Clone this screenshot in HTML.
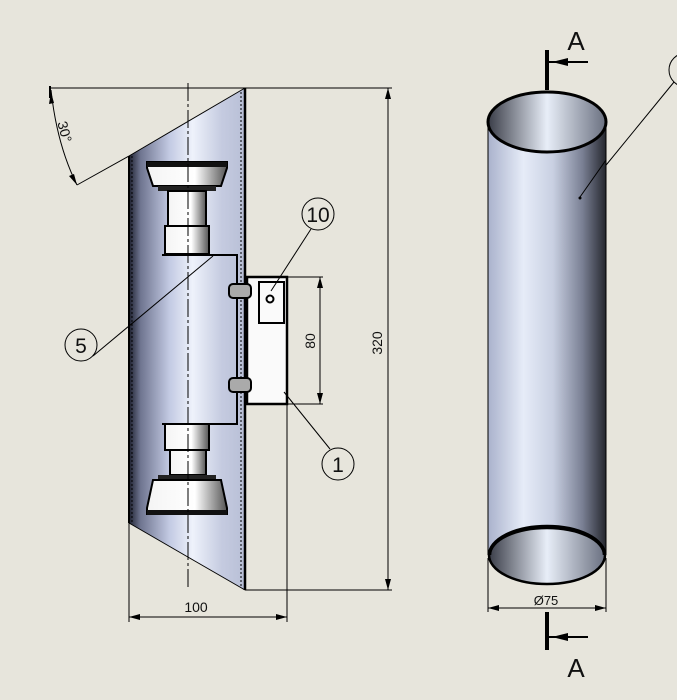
<!DOCTYPE html>
<html><head><meta charset="utf-8"><style>
html,body{margin:0;padding:0;background:#e7e5dc;}
svg{display:block;font-family:"Liberation Sans",sans-serif;}
</style></head><body>
<svg width="700" height="700" viewBox="0 0 700 700" xmlns="http://www.w3.org/2000/svg">
<defs>
<linearGradient id="body" x1="0" x2="1" y1="0" y2="0">
<stop offset="0" stop-color="#1e2130"/><stop offset="0.1" stop-color="#6f7590"/>
<stop offset="0.35" stop-color="#c3cae3"/><stop offset="0.55" stop-color="#eef2fb"/>
<stop offset="0.8" stop-color="#c5cbe0"/><stop offset="1" stop-color="#b8bfd6"/>
</linearGradient>
<linearGradient id="cyl" x1="0" x2="1" y1="0" y2="0">
<stop offset="0" stop-color="#aab2cc"/><stop offset="0.3" stop-color="#e6ecf8"/>
<stop offset="0.55" stop-color="#c9d0e2"/><stop offset="0.8" stop-color="#7a8094"/>
<stop offset="1" stop-color="#25272e"/>
</linearGradient>
<linearGradient id="inner" x1="0" x2="1">
<stop offset="0" stop-color="#3a3d48"/><stop offset="0.5" stop-color="#e8eef8"/><stop offset="1" stop-color="#6a7080"/>
</linearGradient>
<linearGradient id="lamp" x1="0" x2="1">
<stop offset="0" stop-color="#f4f4f4"/><stop offset="0.6" stop-color="#ffffff"/><stop offset="1" stop-color="#555"/>
</linearGradient>
</defs>

<!-- left body -->
<polygon points="129,156 245,88 245,590 129,523" fill="url(#body)"/>
<line x1="129" y1="156" x2="129" y2="523" stroke="#000" stroke-width="2"/>
<line x1="132" y1="156" x2="132" y2="523" stroke="#000" stroke-width="1" stroke-dasharray="2,2"/>
<line x1="245" y1="88" x2="245" y2="590" stroke="#000" stroke-width="2.5"/>
<line x1="241" y1="92" x2="241" y2="588" stroke="#000" stroke-width="1" stroke-dasharray="2,2"/>
<line x1="129" y1="156" x2="245" y2="88" stroke="#000" stroke-width="1"/>
<line x1="129" y1="523" x2="245" y2="590" stroke="#000" stroke-width="1"/>

<!-- upper lamp -->
<path d="M147,162 L227,162 L227,168 L221,186 L153,186 L147,168 Z" fill="url(#lamp)" stroke="#000" stroke-width="2"/>
<rect x="147" y="162" width="80" height="5" fill="#111"/>
<rect x="158" y="186" width="58" height="5" fill="#222"/>
<rect x="168" y="191" width="38" height="35" fill="url(#lamp)" stroke="#000" stroke-width="2"/>
<rect x="165" y="226" width="44" height="28" fill="url(#lamp)" stroke="#000" stroke-width="2"/>
<!-- lower lamp -->
<rect x="165" y="424" width="44" height="26" fill="url(#lamp)" stroke="#000" stroke-width="2"/>
<rect x="170" y="450" width="36" height="25" fill="url(#lamp)" stroke="#000" stroke-width="2"/>
<rect x="158" y="475" width="58" height="5" fill="#222"/>
<path d="M153,480 L221,480 L227,508 L227,514 L147,514 L147,508 Z" fill="url(#lamp)" stroke="#000" stroke-width="2"/>
<rect x="147" y="510" width="80" height="5" fill="#111"/>
<!-- bracket -->
<polyline points="162,255 237,255 237,424 162,424" fill="none" stroke="#000" stroke-width="2"/>
<!-- centerline -->
<line x1="188" y1="83" x2="188" y2="588" stroke="#000" stroke-width="1" stroke-dasharray="18,3,3,3"/>

<!-- box part 1 -->
<rect x="247" y="277" width="40" height="127" fill="#fafafa" stroke="#000" stroke-width="2.5"/>
<rect x="259" y="282" width="25" height="41" fill="#fafafa" stroke="#000" stroke-width="2"/>
<circle cx="270" cy="299" r="3.5" fill="#fff" stroke="#000" stroke-width="2"/>
<rect x="229" y="284" width="22" height="14" rx="4" fill="#aaa" stroke="#000" stroke-width="2"/>
<rect x="229" y="378" width="22" height="14" rx="4" fill="#aaa" stroke="#000" stroke-width="2"/>

<!-- dimension lines -->
<g stroke="#000" stroke-width="1" fill="none">
<line x1="50" y1="88" x2="392" y2="88"/>
<line x1="245" y1="590" x2="392" y2="590"/>
<line x1="388" y1="88" x2="388" y2="590"/>
<line x1="287" y1="277" x2="323" y2="277"/>
<line x1="287" y1="404" x2="323" y2="404"/>
<line x1="320" y1="277" x2="320" y2="404"/>
<line x1="129" y1="523" x2="129" y2="622"/>
<line x1="287" y1="404" x2="287" y2="622"/>
<line x1="129" y1="617" x2="287" y2="617"/>
<line x1="129" y1="156" x2="77" y2="185"/>
<path d="M51,90 Q57,145 77,185"/>
<line x1="50" y1="86" x2="50" y2="98" stroke-width="2"/>
</g>
<g fill="#000">
<polygon points="388,88 385,99 391,99"/><polygon points="388,590 385,579 391,579"/>
<polygon points="320,277 317,288 323,288"/><polygon points="320,404 317,393 323,393"/>
<polygon points="129,617 140,614 140,620"/><polygon points="287,617 276,614 276,620"/>
<polygon points="51,92 49,104 54,103"/><polygon points="77,185 69,176 74,174"/>
</g>
<g font-size="14" fill="#111">
<text x="196" y="612" text-anchor="middle">100</text>
<text transform="translate(382,343) rotate(-90)" text-anchor="middle">320</text>
<text transform="translate(315,341) rotate(-90)" text-anchor="middle">80</text>
<text transform="translate(60,133) rotate(75)" text-anchor="middle">30°</text>
</g>

<!-- balloons -->
<g stroke="#000" stroke-width="1" fill="none">
<circle cx="318" cy="214" r="16"/><line x1="311" y1="229" x2="271" y2="291"/>
<circle cx="81" cy="345" r="16"/><line x1="93" y1="356" x2="213" y2="256"/>
<circle cx="338" cy="464" r="16"/><line x1="330" y1="449" x2="284" y2="392"/>
<circle cx="686" cy="70" r="17"/><line x1="674" y1="82" x2="580" y2="197"/>
</g>
<g font-size="21" fill="#111" text-anchor="middle">
<text x="318" y="222">10</text><text x="81" y="353">5</text><text x="338" y="472">1</text>
</g>

<!-- cylinder -->
<rect x="488" y="120" width="118" height="435" fill="url(#cyl)"/>
<ellipse cx="547" cy="555" rx="58" ry="29" fill="url(#inner)" stroke="#000" stroke-width="2.5"/>
<path d="M490,555 A57,27 0 0 1 604,555" fill="none" stroke="#000" stroke-width="2.5"/>
<ellipse cx="547" cy="122" rx="59" ry="30" fill="url(#inner)" stroke="#000" stroke-width="3"/>
<line x1="488" y1="122" x2="488" y2="555" stroke="#000" stroke-width="1"/>
<line x1="606" y1="122" x2="606" y2="555" stroke="#000" stroke-width="1"/>
<line x1="606" y1="160" x2="580" y2="197" stroke="#000" stroke-width="1"/>
<circle cx="580" cy="198" r="1.5" fill="#000"/>
<g stroke="#000" stroke-width="1">
<line x1="488" y1="558" x2="488" y2="612"/><line x1="606" y1="558" x2="606" y2="612"/>
<line x1="488" y1="608" x2="606" y2="608"/>
</g>
<polygon points="488,608 499,605 499,611"/><polygon points="606,608 595,605 595,611"/>
<text x="546" y="605" font-size="13" text-anchor="middle" fill="#111">Ø75</text>
<!-- section markers -->
<g stroke="#000">
<line x1="547" y1="50" x2="547" y2="90" stroke-width="4"/>
<line x1="549" y1="62" x2="588" y2="62" stroke-width="2"/>
<line x1="547" y1="612" x2="547" y2="650" stroke-width="4"/>
<line x1="549" y1="637" x2="588" y2="637" stroke-width="2"/>
</g>
<polygon points="552,62 568,58 568,66" fill="#000"/>
<polygon points="552,637 568,633 568,641" fill="#000"/>
<g font-size="26" fill="#111" text-anchor="middle">
<text x="576" y="50">A</text><text x="576" y="677">A</text>
</g>
<rect x="677" y="0" width="23" height="700" fill="#fff"/>
</svg>
</body></html>
